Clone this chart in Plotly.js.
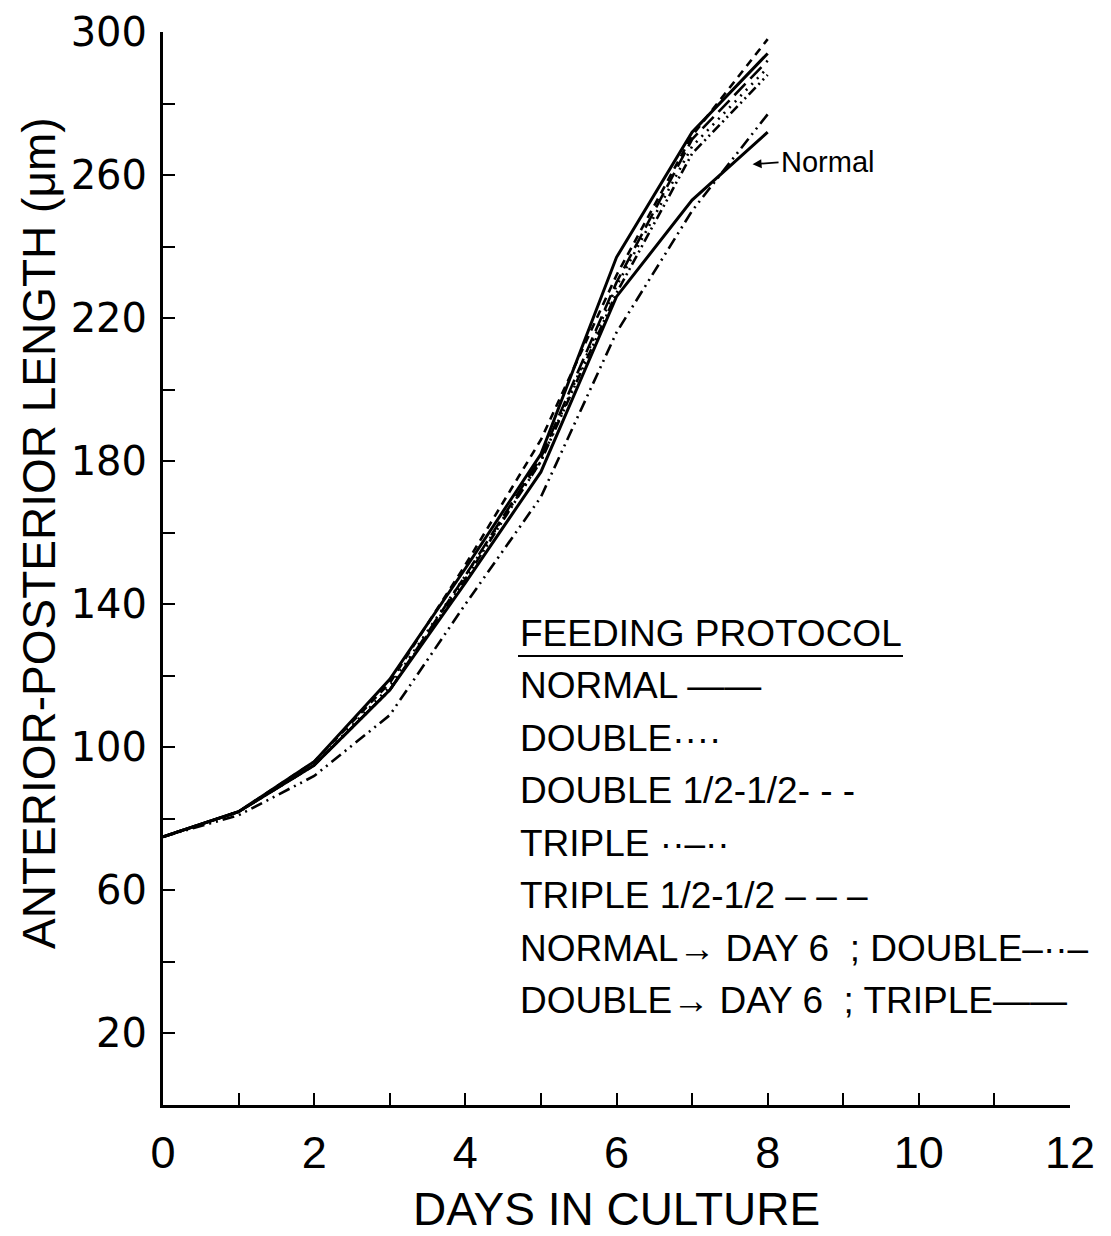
<!DOCTYPE html>
<html>
<head>
<meta charset="utf-8">
<script src="https://cdn.plot.ly/plotly-3.0.1.min.js"></script>
<style>
html,body{margin:0;padding:0;background:#fff;}
#chart{width:1111px;height:1236px;}
</style>
</head>
<body>
<div id="chart"></div>
<script>
// ---- data ----
const days = [0, 1, 2, 3, 4, 5, 6, 7, 8];

const normal          = [75, 82, 95, 116, 146, 177, 226, 253, 272];
const double_         = [75, 82, 95, 117, 148, 180, 229, 268, 290];
const doubleHalf      = [75, 82, 96, 118, 151, 186, 232, 271, 298];
const triple          = [75, 82, 95, 116, 147, 180, 227, 266, 288];
const tripleHalf      = [75, 82, 95, 116, 148, 181, 230, 270, 292];
const normalToDouble  = [75, 81, 92, 109, 140, 170, 216, 250, 277];
const doubleToTriple  = [75, 82, 96, 119, 150, 182, 237, 272, 294];

const xTickVals  = [0,1,2,3,4,5,6,7,8,9,10,11,12];
const xTickText  = ['0','','2','','4','','6','','8','','10','','12'];
const yTickVals  = [20,40,60,80,100,120,140,160,180,200,220,240,260,280,300];
const yTickText  = ['20','','60','','100','','140','','180','','220','','260','','300'];

const legendTitle = 'FEEDING PROTOCOL';
const legendRows = [
  'NORMAL \u2014\u2014',
  'DOUBLE\u00B7\u00B7\u00B7\u00B7',
  'DOUBLE 1/2-1/2- - -',
  'TRIPLE \u00B7\u00B7\u2013\u00B7\u00B7',
  'TRIPLE 1/2-1/2 \u2013 \u2013 \u2013',
  'NORMAL\u2192 DAY 6  ; DOUBLE\u2013\u00B7\u00B7\u2013',
  'DOUBLE\u2192 DAY 6  ; TRIPLE\u2014\u2014'
];

// ---- traces ----
function tr(name, y, dash, width) {
  return {x: days, y: y, name: name, mode: 'lines', type: 'scatter',
          line: {color: '#000', width: width, dash: dash}, showlegend: false,
          hoverinfo: 'skip'};
}
const data = [
  tr('NORMAL', normal, 'solid', 3),
  tr('DOUBLE', double_, '2px,6px', 2.6),
  tr('DOUBLE 1/2-1/2', doubleHalf, '8px,6px', 2.6),
  tr('TRIPLE', triple, '2px,4px,2px,4px,10px,4px', 2.6),
  tr('TRIPLE 1/2-1/2', tripleHalf, '16px,7px', 2.6),
  tr('NORMAL -> DAY 6; DOUBLE', normalToDouble, '12px,5px,2px,5px,2px,5px', 2.6),
  tr('DOUBLE -> DAY 6; TRIPLE', doubleToTriple, 'solid', 3)
];

const sans = '"Liberation Sans", Arial, sans-serif';

const annotations = [];
// legend block
const legX = 0.3917, rowStep = 52.5 / 1073;
const legTopY = (1105 - 633) / 1073;
annotations.push({xref: 'paper', yref: 'paper', x: legX, y: legTopY, xanchor: 'left', yanchor: 'middle',
  text: legendTitle, showarrow: false, font: {family: sans, size: 37, color: '#000'}});
legendRows.forEach(function (t, i) {
  annotations.push({xref: 'paper', yref: 'paper', x: legX, y: legTopY - (i + 1) * rowStep,
    xanchor: 'left', yanchor: 'middle', text: t, showarrow: false,
    font: {family: sans, size: 37, color: '#000'}});
});
// "Normal" label with arrow
annotations.push({x: 7.8, y: 263, xref: 'x', yref: 'y', text: 'Normal', showarrow: true,
  arrowhead: 2, arrowsize: 1, arrowwidth: 1.8, arrowcolor: '#000', ax: 26, ay: -2,
  xanchor: 'left', font: {family: sans, size: 29, color: '#000'}});
// axis titles
annotations.push({xref: 'paper', yref: 'paper', x: 0.5, y: -(1209 - 1105) / 1073, xanchor: 'center', yanchor: 'middle',
  showarrow: false, text: 'DAYS IN CULTURE', font: {family: sans, size: 46, color: '#000'}});
annotations.push({xref: 'paper', yref: 'paper', x: 0, y: (1105 - 533) / 1073, xanchor: 'center', yanchor: 'middle',
  showarrow: false, textangle: -90, text: 'ANTERIOR-POSTERIOR LENGTH (\u03BCm)',
  font: {family: sans, size: 46, color: '#000'}, xshift: -124});

const shapes = [
  // underline of legend heading
  {type: 'line', xref: 'paper', yref: 'paper', x0: (518 - 163) / 907, x1: (903 - 163) / 907,
   y0: (1105 - 656) / 1073, y1: (1105 - 656) / 1073, line: {color: '#000', width: 2}}
];

const layout = {
  width: 1111, height: 1236,
  margin: {l: 163, r: 41, t: 32, b: 131, pad: 0},
  paper_bgcolor: '#fff', plot_bgcolor: '#fff',
  showlegend: false,
  xaxis: {range: [0, 12], tickvals: xTickVals, ticktext: xTickText, ticks: 'inside', ticklen: 12,
    tickwidth: 2, tickcolor: '#000', showline: true, linecolor: '#000', linewidth: 2.5,
    showgrid: false, zeroline: false, tickfont: {family: sans, size: 45, color: '#000'},
    ticklabelstandoff: 6, automargin: false, fixedrange: true},
  yaxis: {range: [0, 300], tickvals: yTickVals, ticktext: yTickText, ticks: 'inside', ticklen: 12,
    tickwidth: 2, tickcolor: '#000', showline: true, linecolor: '#000', linewidth: 3,
    showgrid: false, zeroline: false, tickfont: {family: '"DejaVu Sans", sans-serif', size: 40, color: '#000'},
    ticklabelstandoff: 5, automargin: false, fixedrange: true},
  annotations: annotations,
  shapes: shapes
};

Plotly.newPlot('chart', data, layout, {staticPlot: true, displayModeBar: false});
</script>
</body>
</html>
